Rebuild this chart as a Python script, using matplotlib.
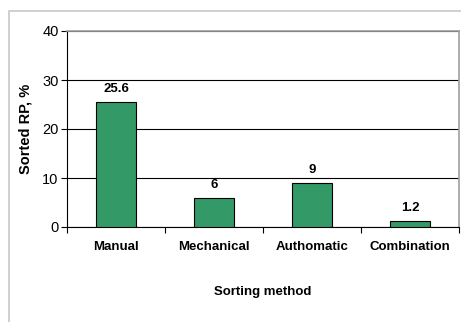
import matplotlib
matplotlib.use("Agg")
import matplotlib.pyplot as plt
from matplotlib.patches import Rectangle

categories = ["Manual", "Mechanical", "Authomatic", "Combination"]
values = [25.6, 6, 9, 1.2]
value_labels = ["25.6", "6", "9", "1.2"]
yticks = [0, 10, 20, 30, 40]

plt.rcParams['font.family'] = ['Liberation Sans', 'DejaVu Sans']

W, H = 461, 322
fig = plt.figure(figsize=(W / 100, H / 100), dpi=100)

# outer chart frame
fig.patches.append(Rectangle((8.5 / W, -0.1), 1.2, 1 - 10.5 / H + 0.1,
                             transform=fig.transFigure, fill=False,
                             edgecolor='#c8c8c8', linewidth=1.2))

left, right, top, bottom = 67, 459, 31, 227
ax = fig.add_axes([left / W, 1 - bottom / H, (right - left) / W, (bottom - top) / H])

x = list(range(len(categories)))
ax.bar(x, values, width=0.4, color='#339966', edgecolor='black', linewidth=0.8, zorder=3)
for xi, v, lab in zip(x, values, value_labels):
    ax.annotate(lab, (xi, v), xytext=(0, 5), textcoords='offset points',
                ha='center', va='bottom', fontsize=9.5, fontweight='bold')

ax.set_xlim(-0.5, len(categories) - 0.5)
ax.set_ylim(0, 40)
ax.set_yticks(yticks)
ax.set_yticklabels([str(t) for t in yticks], fontsize=10.5)
ax.yaxis.grid(True, color='black', linewidth=0.8, zorder=0)
ax.set_axisbelow(True)

ax.set_xticks([i + 0.5 for i in range(-1, len(categories))], minor=False)
ax.set_xticklabels([])
ax.tick_params(axis='x', which='major', direction='out', length=4, width=0.8, colors='black')
ax.set_xticks(x, minor=True)
ax.set_xticklabels(categories, minor=True, fontsize=9.5, fontweight='bold')
ax.tick_params(axis='x', which='minor', length=0, pad=10)
ax.tick_params(axis='y', direction='out', length=4, width=0.8, pad=2)

for s in ['top', 'right']:
    ax.spines[s].set_color('#a0a0a0')
    ax.spines[s].set_linewidth(1.2)
ax.spines['left'].set_color('black')
ax.spines['bottom'].set_color('black')

ax.set_ylabel("Sorted RP, %", fontsize=10.5, fontweight='bold', labelpad=7)
ax.set_xlabel("Sorting method", fontsize=9.5, fontweight='bold', labelpad=24)

fig.savefig("out.png", dpi=100)
